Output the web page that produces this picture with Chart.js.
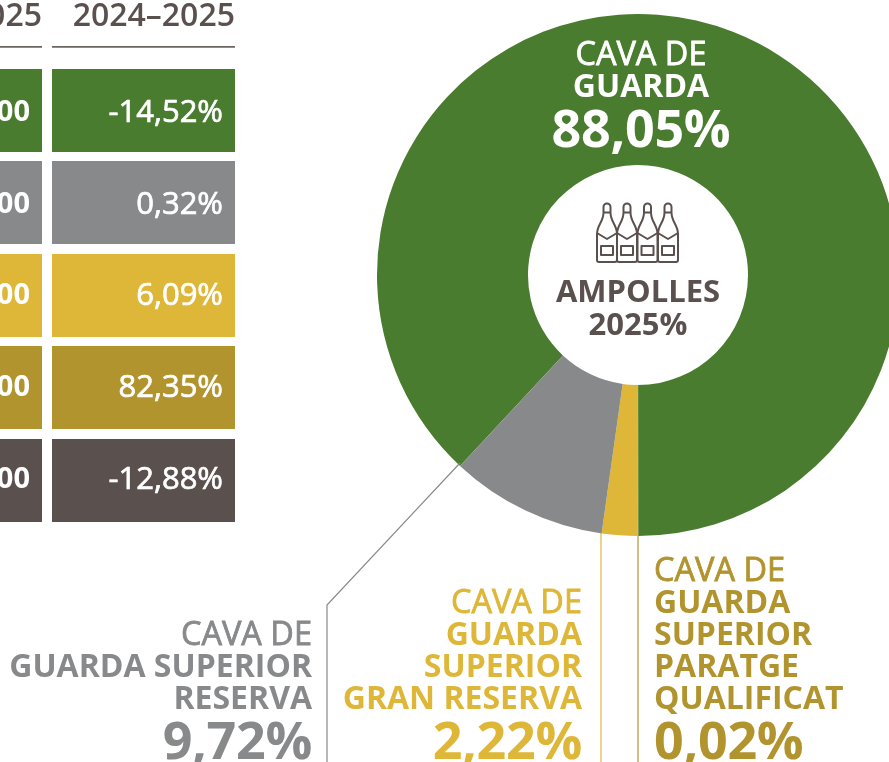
<!DOCTYPE html>
<html><head><meta charset="utf-8">
<script src="https://cdn.jsdelivr.net/npm/chart.js@4"></script>
<style>
html,body{margin:0;padding:0;background:#fff;width:889px;height:762px;overflow:hidden}
#stage{position:relative;width:889px;height:762px;overflow:hidden;font-family:"Open Sans",sans-serif}
#stage canvas{position:absolute;left:0;top:0}
.abs{position:absolute;white-space:nowrap}
.cell{position:absolute;box-sizing:border-box;color:#fff;text-align:right;padding-right:12px;font-size:31px;font-weight:400;-webkit-text-stroke:.7px #fff;overflow:hidden;white-space:nowrap}
.hdr{position:absolute;color:#5a514e;font-size:32px;font-weight:600;line-height:34px;top:-3px;text-align:right;white-space:nowrap}
.lbl{position:absolute;font-size:32px;line-height:32px;white-space:nowrap}
.lbl div{font-weight:700}
.lbl div.r{font-weight:400;font-size:32.5px;-webkit-text-stroke:.8px currentColor}
.lbl div.p{font-size:52px;line-height:54px;font-weight:700;letter-spacing:-.3px}
</style></head><body>
<div id="stage">
<div style="position:absolute;left:0;top:0;width:889px;height:762px">
<canvas id="c" width="1276" height="762" style="width:1276px;height:762px"></canvas>
</div>
<svg class="abs" id="lines" width="889" height="762" style="left:0;top:0"></svg>
<svg class="abs" viewBox="0 0 90 64" width="90" height="64" style="left:593px;top:201px" fill="#fff" stroke="#5a514e" stroke-width="2" stroke-linejoin="round">
<defs><g id="b"><path d="M-3.5 5a3.5 3.5 0 0 1 7 0V10.5h-7zM-3.5 10.5C-3.5 20-10 23-10 32V58q0 2 2 2H8q2 0 2-2V32C10 23 3.5 20 3.5 10.5"/><path d="M-10 31L0 37L10 31" fill="none"/><rect x="-6" y="44" width="12" height="9" fill="none"/></g></defs>
<use href="#b" x="14" y="1"/><use href="#b" x="75" y="1"/><use href="#b" x="34" y="1"/><use href="#b" x="54.500" y="1"/>
</svg>
<div class="abs" id="hole" style="left:528px;top:274px;width:220px;text-align:center;color:#5a514e;font-weight:700;font-size:31px;line-height:33px"></div>
</div>
<script>
// Doughnut data, clockwise from the grey/green boundary
const sliceNames = ["CAVA DE GUARDA","CAVA DE GUARDA SUPERIOR PARATGE QUALIFICAT","CAVA DE GUARDA SUPERIOR GRAN RESERVA","CAVA DE GUARDA SUPERIOR RESERVA"];
const sliceValues = [88.05,0.02,2.22,9.72];
const sliceText = ["88,05%","0,02%","2,22%","9,72%"];
const sliceColors = ["#4a7c2f","#b2942f","#deb738","#88898b"];
// Table (left column is cropped by the picture edge)
const rowColors = ["#4a7c2f","#88898b","#deb738","#b2942f","#5a514e"];
const cutColumn = ["000","000","000","000","000"];
const changeColumn = ["-14,52%","0,32%","6,09%","82,35%","-12,88%"];
const headers = ["2025","2024–2025"];
const centerLines = ["AMPOLLES","2025%"];

new Chart(document.getElementById('c'),{
  type:'doughnut',
  data:{labels:sliceNames,datasets:[{data:sliceValues,backgroundColor:sliceColors,borderWidth:0,hoverOffset:0}]},
  options:{responsive:false,animation:false,rotation:223,cutout:'42.15%',
    layout:{padding:{top:14,bottom:226,left:0,right:0}},
    plugins:{legend:{display:false},tooltip:{enabled:false}}}
});

const stage=document.getElementById('stage');
function add(cls,css,html){const d=document.createElement('div');d.className=cls;d.style.cssText=css;d.innerHTML=html;stage.appendChild(d);return d;}
// table
const rowTops=[69,161,254,346,439];
const rowTextMid=[41,41,39,39,38];
rowColors.forEach((col,i)=>{
  const lh=rowTextMid[i]*2;
  add('cell',`left:-40px;width:82px;top:${rowTops[i]}px;height:83px;line-height:${lh}px;background:${col};font-weight:700;font-size:29px;-webkit-text-stroke:0`,cutColumn[i]);
  add('cell',`left:52px;width:183px;top:${rowTops[i]}px;height:83px;line-height:${lh}px;background:${col}`,changeColumn[i]);
});
add('hdr','left:-60px;width:102px',headers[0]);
add('hdr','left:40px;width:195px',headers[1]);
add('abs','left:-5px;width:47px;top:46px;height:2px;background:linear-gradient(#5a514e,#a39e9c)','');
add('abs','left:52px;width:183px;top:46px;height:2px;background:linear-gradient(#5a514e,#a39e9c)','');
// leader lines
document.getElementById('lines').innerHTML=
 `<polyline points="460,463 327,605 327,762" fill="none" stroke="${sliceColors[3]}" stroke-width="1.2"/>`+
 `<line x1="601" y1="533" x2="601" y2="762" stroke="${sliceColors[2]}" stroke-width="1.2"/>`+
 `<line x1="638" y1="536" x2="638" y2="762" stroke="${sliceColors[1]}" stroke-width="1.2"/>`;
// labels
function label(pos,col,lines,pct){
  const rows=lines.map((t,i)=>`<div class="${i==0?'r':''}">${t}</div>`).join('')+`<div class="p" style="margin-top:-1px">${pct}</div>`;
  add('lbl',pos+`;color:${col}`,rows);
}
label('right:577px;top:617px;text-align:right',sliceColors[3],["CAVA DE","GUARDA SUPERIOR","RESERVA"],sliceText[3]);
label('right:307px;top:585px;text-align:right',sliceColors[2],["CAVA DE","GUARDA","SUPERIOR","GRAN RESERVA"],sliceText[2]);
label('left:654px;top:553px',sliceColors[1],["CAVA DE","GUARDA","SUPERIOR","PARATGE","QUALIFICAT"],sliceText[1]);
add('lbl',`left:541px;width:200px;top:37px;text-align:center;color:#fff`,`<div class="r">CAVA DE</div><div>GUARDA</div><div class="p" style="font-size:52px;line-height:52px">${sliceText[0]}</div>`);
document.getElementById('hole').innerHTML=centerLines.join('<br>');
</script>
</body></html>
